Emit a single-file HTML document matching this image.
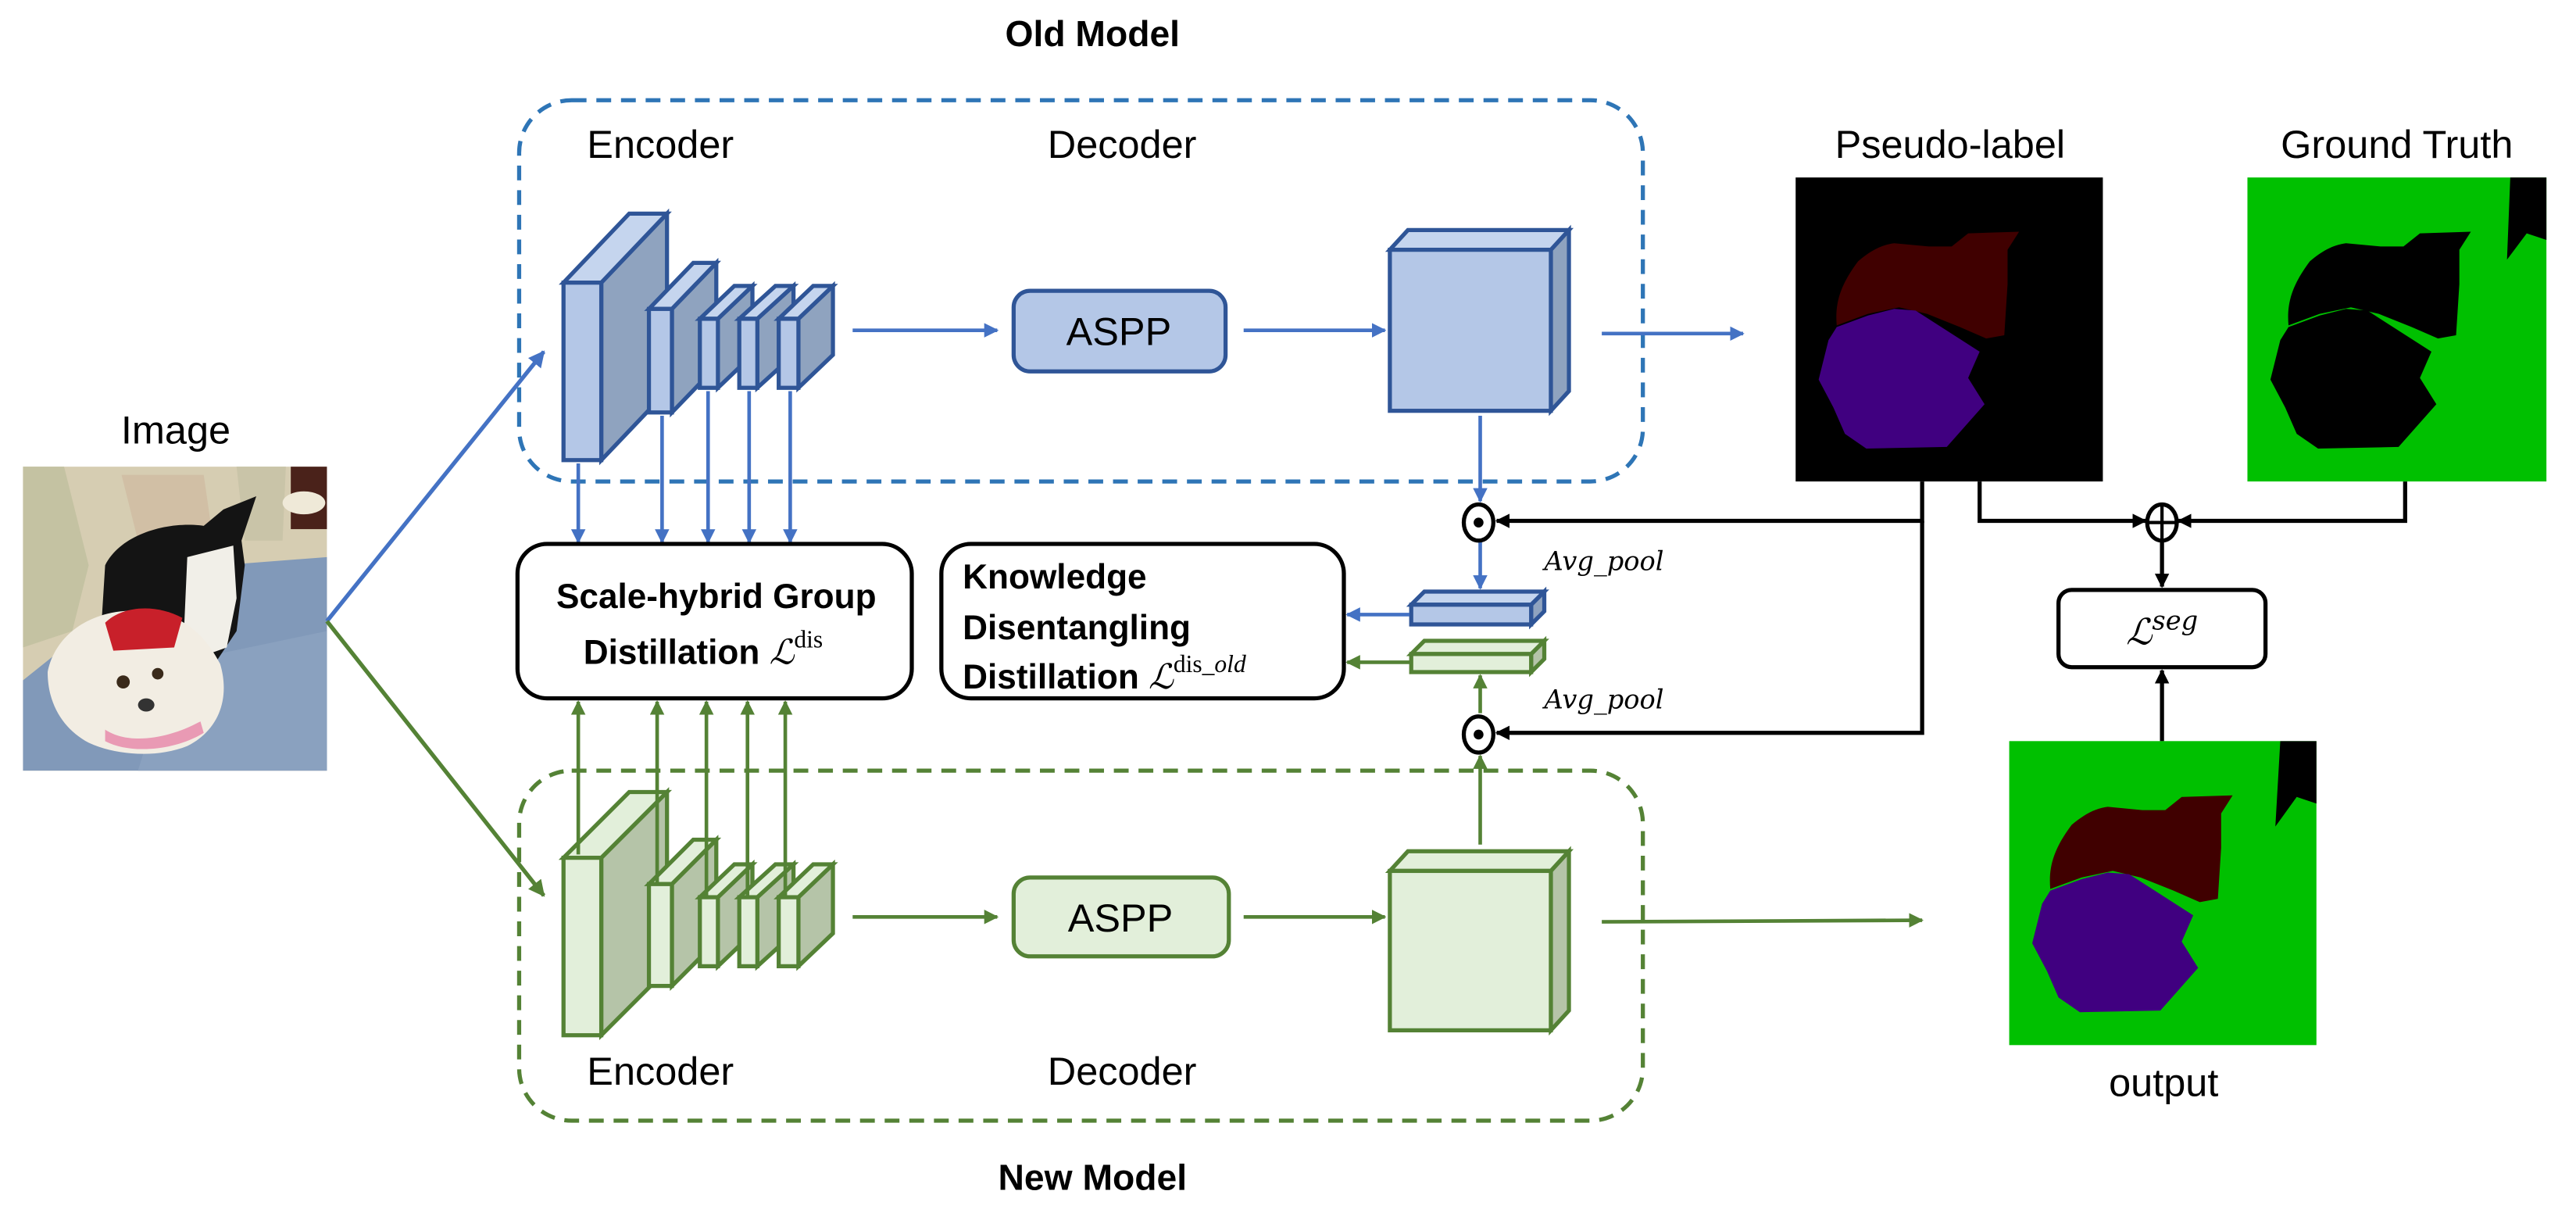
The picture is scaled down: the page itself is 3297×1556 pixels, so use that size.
<!DOCTYPE html>
<html><head><meta charset="utf-8"><style>
html,body{margin:0;padding:0;background:#fff;}
svg{display:block;}
text{font-family:"Liberation Sans","DejaVu Sans",sans-serif;}
.it{font-family:"DejaVu Serif","Liberation Serif",serif;font-style:italic;}
</style></head><body>
<svg width="3297" height="1556" viewBox="0 0 1568 740" preserveAspectRatio="none" xmlns="http://www.w3.org/2000/svg">
<defs>
<marker id="ab" viewBox="0 0 10 10" refX="9" refY="5" markerWidth="4" markerHeight="4" orient="auto"><path d="M0,0L10,5L0,10Z" fill="#4472C4"/></marker>
<marker id="ag" viewBox="0 0 10 10" refX="9" refY="5" markerWidth="4" markerHeight="4" orient="auto"><path d="M0,0L10,5L0,10Z" fill="#548235"/></marker>
<marker id="ak" viewBox="0 0 10 10" refX="9" refY="5" markerWidth="3.5" markerHeight="3.5" orient="auto"><path d="M0,0L10,5L0,10Z" fill="#000"/></marker>
<path id="cat" d="M25,90 C24,78 26,67 38,51 C45,45 52,41 60,40 L81,42 L95,42 L105,34 L136,33 L129,44 L129,65 L127,96 L116,98 L100,91 L80,83 L63,79 L44,83 Z"/>
<path id="dog" d="M25,91 L44,84 L60,80 L73,81 L112,106 L105,122 L115,138 L92,164 L43,165 L30,156 L23,140 L14,123 L20,99 Z"/>
</defs>

<text x="665" y="28" font-size="22" font-weight="bold" text-anchor="middle">Old Model</text>
<text x="665" y="724" font-size="22" font-weight="bold" text-anchor="middle">New Model</text>

<rect x="316" y="61" width="684" height="232" rx="32" fill="none" stroke="#2E75B6" stroke-width="2.5" stroke-dasharray="9,6"/>
<rect x="316" y="469" width="684" height="213" rx="32" fill="none" stroke="#548235" stroke-width="2.5" stroke-dasharray="9,6"/>

<text x="402" y="96" font-size="24" text-anchor="middle">Encoder</text>
<text x="683" y="96" font-size="24" text-anchor="middle">Decoder</text>
<text x="402" y="660" font-size="24" text-anchor="middle">Encoder</text>
<text x="683" y="660" font-size="24" text-anchor="middle">Decoder</text>

<!-- Image -->
<text x="107" y="270" font-size="24" text-anchor="middle">Image</text>
<g transform="translate(14,284)">
<rect width="185" height="185" fill="#d6cdb2"/>
<path d="M0,0 L25,0 L40,60 L30,100 L0,110Z" fill="#c4c2a2"/>
<path d="M60,5 L110,5 L115,40 L70,45Z" fill="#cdb59c" opacity="0.6"/>
<path d="M130,0 L160,0 L158,45 L135,45Z" fill="#c9c4a8"/>
<rect x="163" y="0" width="22" height="38" fill="#4a221a"/>
<ellipse cx="171" cy="22" rx="13" ry="7" fill="#efe9d8"/>
<path d="M0,185 L0,130 L25,110 L60,90 L120,60 L185,55 L185,185Z" fill="#8199b9"/>
<path d="M90,120 L185,100 L185,185 L70,185Z" fill="#8aa1bf"/>
<path d="M50,60 C60,40 90,33 110,36 L122,26 L142,18 L133,45 L135,60 L130,100 L118,118 L85,112 L60,105 L48,92 Z" fill="#141414"/>
<path d="M100,55 L128,48 L130,80 L124,110 L110,115 L98,100 Z" fill="#f1efe8"/>
<path d="M15,125 C20,100 45,85 75,88 C100,90 112,105 120,120 C126,140 120,160 100,170 C80,178 55,175 40,168 C25,160 15,145 15,125 Z" fill="#f2ede3"/>
<path d="M50,95 C60,85 80,83 97,92 L92,110 L55,112 Z" fill="#c8202a"/>
<ellipse cx="61" cy="131" rx="4" ry="4" fill="#3a2a1a"/>
<ellipse cx="82" cy="126" rx="3.5" ry="3.5" fill="#3a2a1a"/>
<ellipse cx="75" cy="145" rx="5" ry="4" fill="#333"/>
<path d="M50,160 C65,170 90,165 108,155 L110,162 C92,173 65,175 50,167Z" fill="#e99ab4"/>
</g>

<line x1="199" y1="378" x2="331" y2="214" stroke="#4472C4" stroke-width="2.5" marker-end="url(#ab)"/>
<line x1="199" y1="378" x2="331" y2="545" stroke="#548235" stroke-width="2.5" marker-end="url(#ag)"/>

<!-- OLD blocks -->
<g stroke="#2F5597" stroke-width="2.5">
 <polygon points="366,172 406,130 406,238 366,280" fill="#8FA3BF"/>
 <polygon points="343,172 383,130 406,130 366,172" fill="#C5D5EE"/>
 <rect x="343" y="172" width="23" height="108" fill="#B4C7E7"/>
 <polygon points="409,188 436,160 436,223 409,251" fill="#8FA3BF"/>
 <polygon points="395,188 422,160 436,160 409,188" fill="#C5D5EE"/>
 <rect x="395" y="188" width="14" height="63" fill="#B4C7E7"/>
 <polygon points="437,194 458,174 458,216 437,236" fill="#8FA3BF"/>
 <polygon points="426,194 447,174 458,174 437,194" fill="#C5D5EE"/>
 <rect x="426" y="194" width="11" height="42" fill="#B4C7E7"/>
 <polygon points="461,194 483,174 483,216 461,236" fill="#8FA3BF"/>
 <polygon points="450,194 472,174 483,174 461,194" fill="#C5D5EE"/>
 <rect x="450" y="194" width="11" height="42" fill="#B4C7E7"/>
 <polygon points="486,194 507,174 507,216 486,236" fill="#8FA3BF"/>
 <polygon points="474,194 495,174 507,174 486,194" fill="#C5D5EE"/>
 <rect x="474" y="194" width="12" height="42" fill="#B4C7E7"/>
 <rect x="617" y="177" width="129" height="49" rx="10" fill="#B4C7E7"/>
 <polygon points="944,152 955,140 955,238 944,250" fill="#8FA3BF"/>
 <polygon points="846,152 857,140 955,140 944,152" fill="#C5D5EE"/>
 <rect x="846" y="152" width="98" height="98" fill="#B4C7E7"/>
 <polygon points="932,368 940,360 940,372 932,380" fill="#8FA3BF"/>
 <polygon points="859,368 867,360 940,360 932,368" fill="#C5D5EE"/>
 <rect x="859" y="368" width="73" height="12" fill="#B4C7E7"/>
</g>
<text x="681" y="210" font-size="24" text-anchor="middle">ASPP</text>

<!-- NEW blocks -->
<g stroke="#548235" stroke-width="2.5">
 <polygon points="366,522 406,482 406,590 366,630" fill="#B5C4A8"/>
 <polygon points="343,522 383,482 406,482 366,522" fill="#E2EFDA"/>
 <rect x="343" y="522" width="23" height="108" fill="#E2EFDA"/>
 <polygon points="409,538 436,511 436,573 409,600" fill="#B5C4A8"/>
 <polygon points="395,538 422,511 436,511 409,538" fill="#E2EFDA"/>
 <rect x="395" y="538" width="14" height="62" fill="#E2EFDA"/>
 <polygon points="437,546 458,526 458,568 437,588" fill="#B5C4A8"/>
 <polygon points="426,546 447,526 458,526 437,546" fill="#E2EFDA"/>
 <rect x="426" y="546" width="11" height="42" fill="#E2EFDA"/>
 <polygon points="461,546 483,526 483,568 461,588" fill="#B5C4A8"/>
 <polygon points="450,546 472,526 483,526 461,546" fill="#E2EFDA"/>
 <rect x="450" y="546" width="11" height="42" fill="#E2EFDA"/>
 <polygon points="486,546 507,526 507,568 486,588" fill="#B5C4A8"/>
 <polygon points="474,546 495,526 507,526 486,546" fill="#E2EFDA"/>
 <rect x="474" y="546" width="12" height="42" fill="#E2EFDA"/>
 <rect x="617" y="534" width="131" height="48" rx="10" fill="#E2EFDA"/>
 <polygon points="944,530 955,518 955,615 944,627" fill="#B5C4A8"/>
 <polygon points="846,530 857,518 955,518 944,530" fill="#E2EFDA"/>
 <rect x="846" y="530" width="98" height="97" fill="#E2EFDA"/>
 <polygon points="932,398 940,390 940,401 932,409" fill="#B5C4A8"/>
 <polygon points="859,398 867,390 940,390 932,398" fill="#E2EFDA"/>
 <rect x="859" y="398" width="73" height="11" fill="#E2EFDA"/>
</g>
<text x="682" y="567" font-size="24" text-anchor="middle">ASPP</text>

<g stroke="#4472C4" stroke-width="2.2" fill="none">
 <line x1="519" y1="201" x2="607" y2="201" marker-end="url(#ab)"/>
 <line x1="757" y1="201" x2="843" y2="201" marker-end="url(#ab)"/>
 <line x1="975" y1="203" x2="1061" y2="203" marker-end="url(#ab)"/>
 <line x1="352" y1="282" x2="352" y2="330" marker-end="url(#ab)"/>
 <line x1="403" y1="253" x2="403" y2="330" marker-end="url(#ab)"/>
 <line x1="431" y1="238" x2="431" y2="330" marker-end="url(#ab)"/>
 <line x1="456" y1="238" x2="456" y2="330" marker-end="url(#ab)"/>
 <line x1="481" y1="238" x2="481" y2="330" marker-end="url(#ab)"/>
 <line x1="901" y1="253" x2="901" y2="305" marker-end="url(#ab)"/>
 <line x1="901" y1="330" x2="901" y2="358" marker-end="url(#ab)"/>
 <line x1="858" y1="374" x2="820" y2="374" marker-end="url(#ab)"/>
</g>
<g stroke="#548235" stroke-width="2.2" fill="none">
 <line x1="519" y1="558" x2="607" y2="558" marker-end="url(#ag)"/>
 <line x1="757" y1="558" x2="843" y2="558" marker-end="url(#ag)"/>
 <line x1="975" y1="561" x2="1170" y2="560" marker-end="url(#ag)"/>
 <line x1="352" y1="520" x2="352" y2="427" marker-end="url(#ag)"/>
 <line x1="400" y1="537" x2="400" y2="427" marker-end="url(#ag)"/>
 <line x1="430" y1="545" x2="430" y2="427" marker-end="url(#ag)"/>
 <line x1="455" y1="545" x2="455" y2="427" marker-end="url(#ag)"/>
 <line x1="478" y1="545" x2="478" y2="427" marker-end="url(#ag)"/>
 <line x1="901" y1="514" x2="901" y2="460" marker-end="url(#ag)"/>
 <line x1="901" y1="434" x2="901" y2="411" marker-end="url(#ag)"/>
 <line x1="858" y1="403" x2="820" y2="403" marker-end="url(#ag)"/>
</g>

<rect x="315" y="331" width="240" height="94" rx="18" fill="#fff" stroke="#000" stroke-width="2.5"/>
<text x="436" y="370" font-size="21" font-weight="bold" text-anchor="middle">Scale-hybrid Group</text>
<text x="428" y="404" font-size="21" font-weight="bold" text-anchor="middle">Distillation <tspan class="it" font-weight="normal">ℒ</tspan><tspan font-family="Liberation Serif,serif" font-weight="normal" font-size="15" dy="-10">dis</tspan></text>
<rect x="573" y="331" width="245" height="94" rx="18" fill="#fff" stroke="#000" stroke-width="2.5"/>
<text x="586" y="358" font-size="21" font-weight="bold">Knowledge</text>
<text x="586" y="389" font-size="21" font-weight="bold">Disentangling</text>
<text x="586" y="419" font-size="21" font-weight="bold">Distillation <tspan class="it" font-weight="normal">ℒ</tspan><tspan font-family="Liberation Serif,serif" font-weight="normal" font-size="15" dy="-10">dis_<tspan font-style="italic">old</tspan></tspan></text>

<text class="it" x="940" y="347" font-size="16">Avg_pool</text>
<text class="it" x="940" y="431" font-size="16">Avg_pool</text>

<g stroke="#000" stroke-width="2.5" fill="#fff">
 <ellipse cx="900" cy="318" rx="9" ry="11"/>
 <ellipse cx="900" cy="447" rx="9" ry="11"/>
 <ellipse cx="1316" cy="318" rx="9" ry="11"/>
</g>
<circle cx="900" cy="318" r="3" fill="#000"/>
<circle cx="900" cy="447" r="3" fill="#000"/>
<line x1="1307" y1="318" x2="1325" y2="318" stroke="#000" stroke-width="2"/>
<line x1="1316" y1="307" x2="1316" y2="329" stroke="#000" stroke-width="2"/>

<g stroke="#000" stroke-width="2.5" fill="none">
 <polyline points="1170,293 1170,317 911,317" marker-end="url(#ak)"/>
 <polyline points="1170,317 1170,446 911,446" marker-end="url(#ak)"/>
 <polyline points="1205,293 1205,317 1306,317" marker-end="url(#ak)"/>
 <polyline points="1464,293 1464,317 1326,317" marker-end="url(#ak)"/>
 <line x1="1316" y1="329" x2="1316" y2="357" marker-end="url(#ak)"/>
 <line x1="1316" y1="451" x2="1316" y2="408" marker-end="url(#ak)"/>
</g>
<rect x="1253" y="359" width="126" height="47" rx="8" fill="#fff" stroke="#000" stroke-width="2.5"/>
<text x="1316" y="392" font-size="22" text-anchor="middle"><tspan class="it">ℒ</tspan><tspan class="it" font-size="16" dy="-9">seg</tspan></text>

<text x="1187" y="96" font-size="24" text-anchor="middle">Pseudo-label</text>
<text x="1459" y="96" font-size="24" text-anchor="middle">Ground Truth</text>
<text x="1317" y="667" font-size="24" text-anchor="middle">output</text>

<g transform="translate(1093,108)">
<rect width="187" height="185" fill="#000"/>
<use href="#cat" fill="#400000"/>
<use href="#dog" fill="#400080"/>
</g>
<g transform="translate(1368,108)">
<rect width="182" height="185" fill="#00C000"/>
<use href="#cat" fill="#000"/>
<use href="#dog" fill="#000"/>
<path d="M160,0 L182,0 L182,38 L170,34 L158,50 Z" fill="#000"/>
</g>
<g transform="translate(1223,451)">
<rect width="187" height="185" fill="#00C000"/>
<use href="#cat" fill="#400000"/>
<use href="#dog" fill="#400080"/>
<path d="M165,0 L187,0 L187,38 L175,34 L162,52 Z" fill="#000"/>
</g>
</svg>
</body></html>
